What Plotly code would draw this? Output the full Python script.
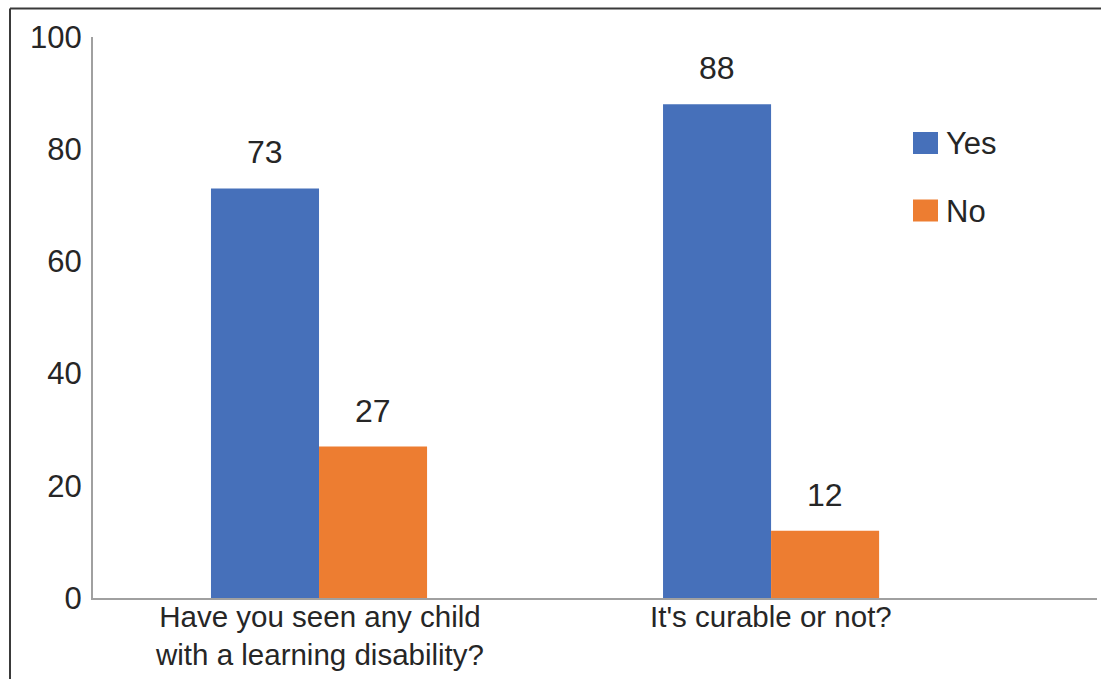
import plotly.graph_objects as go

categories = ["Have you seen any child<br>with a learning disability?", "It's curable or not?"]
series_names = ["Yes", "No"]
yes_values = [73, 88]
no_values = [27, 12]
y_ticks = [0, 20, 40, 60, 80, 100]

colors = ["#4670BA", "#ED7D31"]
FONT = "Liberation Sans, Arial, sans-serif"
TXT = "#262626"

x_pos = list(range(len(categories)))
fig = go.Figure()
for name, vals, col in zip(series_names, [yes_values, no_values], colors):
    fig.add_trace(go.Bar(x=x_pos, y=vals, name=name, marker=dict(color=col, line=dict(width=0)),
                         showlegend=False, hoverinfo="y"))

bargap = 0.522
half = (1 - bargap) / 4  # centre offset of each bar within its group
annotations = []
for k, vals in enumerate([yes_values, no_values]):
    off = -half if k == 0 else half
    for i, v in enumerate(vals):
        annotations.append(dict(x=x_pos[i] + off, y=v, xref="x", yref="y", text=str(v),
                                showarrow=False, yanchor="middle", yshift=36,
                                font=dict(family=FONT, size=32, color=TXT)))

# category labels under the axis
for i, cat in enumerate(categories):
    annotations.append(dict(x=x_pos[i], y=0, xref="x", yref="y", text=cat, showarrow=False,
                            xanchor="center", yanchor="top", yshift=0, align="center",
                            font=dict(family=FONT, size=29.5, color=TXT)))

# legend drawn manually (large squares)
W = 1004.0
H = 561.0
def px(x):
    return (x - 93) / W
def py(y):
    return (598 - y) / H

shapes = []
leg_y = [143, 210.5]
for name, col, yc in zip(series_names, colors, leg_y):
    shapes.append(dict(type="rect", xref="paper", yref="paper", x0=px(913), x1=px(938),
                       y0=py(yc + 11), y1=py(yc - 11), fillcolor=col, line=dict(width=0)))
    annotations.append(dict(x=px(944), y=py(yc + 1), xref="paper", yref="paper", text=name,
                            showarrow=False, xanchor="left", yanchor="middle",
                            font=dict(family=FONT, size=31, color=TXT)))

# outer frame (left and top edges)
shapes.append(dict(type="line", xref="paper", yref="paper", x0=px(10), x1=px(1101 + 5),
                   y0=py(8.5), y1=py(8.5), line=dict(color="#3a3a3a", width=2)))
shapes.append(dict(type="line", xref="paper", yref="paper", x0=px(10), x1=px(10),
                   y0=py(8.5), y1=py(679 + 5), line=dict(color="#3a3a3a", width=2)))

fig.update_layout(
    width=1101, height=679,
    margin=dict(l=93, r=4, t=37, b=81, autoexpand=False),
    paper_bgcolor="white", plot_bgcolor="white",
    barmode="group", bargap=bargap, bargroupgap=0,
    font=dict(family=FONT, size=31, color=TXT),
    xaxis=dict(tickmode="array", tickvals=x_pos, ticktext=["", ""], range=[-0.5, 1.721],
               showgrid=False, zeroline=False, showline=True, linecolor="#a0a0a0", linewidth=2,
               ticks="", automargin=False, showticklabels=False),
    yaxis=dict(range=[0, 100], tickvals=y_ticks, showgrid=False, zeroline=False,
               showline=True, linecolor="#a0a0a0", linewidth=2, ticks="", automargin=False,
               ticklabelstandoff=3, tickfont=dict(family=FONT, size=31, color=TXT)),
    annotations=annotations,
    shapes=shapes,
)

fig.write_html("out.html")
